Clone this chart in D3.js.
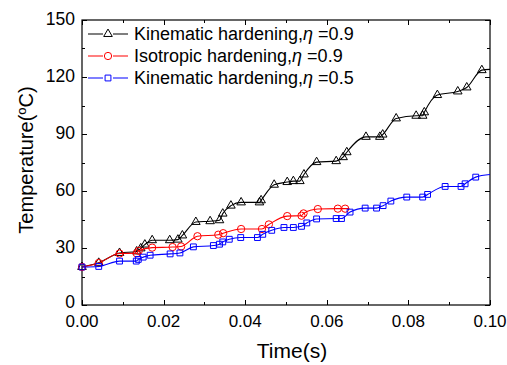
<!DOCTYPE html>
<html>
<head>
<meta charset="utf-8">
<script src="https://cdn.jsdelivr.net/npm/d3@7"></script>
<style>
  body { margin: 0; background: #fff; }
  svg { display: block; font-family: Arial, "Liberation Sans", sans-serif; }
</style>
</head>
<body>
<svg id="chart" width="507" height="365"></svg>
<script>
// series: kinematic hardening, eta = 0.9
const kin09Time = [0, 0.0041, 0.0092, 0.0134, 0.0144, 0.0154, 0.0172, 0.0215, 0.0235, 0.0246, 0.0279, 0.0314, 0.0337, 0.0345, 0.0365, 0.039, 0.0435, 0.0439, 0.0471, 0.0503, 0.0518, 0.0534, 0.0544, 0.0575, 0.0623, 0.064, 0.0649, 0.0696, 0.073, 0.0737, 0.077, 0.0819, 0.0835, 0.0839, 0.0871, 0.0921, 0.0943, 0.098, 0.1];
const kin09Temp = [20, 22.2, 27.4, 28.2, 29.8, 31.8, 34.1, 34.1, 34.4, 36.6, 43.7, 44.1, 44.6, 48.1, 52.3, 54.0, 54.0, 55.1, 63.3, 64.7, 65.2, 65.2, 68.7, 75.2, 75.7, 77.8, 80.4, 88.5, 88.5, 89.7, 98.2, 99.6, 99.6, 101.4, 110.5, 112.4, 114.5, 123.6, 124];

// series: isotropic hardening, eta = 0.9
const iso09Time = [0, 0.0041, 0.0092, 0.0134, 0.0139, 0.0172, 0.0222, 0.0243, 0.0283, 0.0334, 0.0346, 0.039, 0.0441, 0.0458, 0.0503, 0.0538, 0.0543, 0.0578, 0.0627, 0.0645, 0.0655];
const iso09Temp = [20, 22.1, 27.1, 27.2, 28.5, 30.2, 30.5, 30.8, 36.2, 37.0, 37.8, 40.0, 40.0, 42.4, 46.8, 47.0, 48.2, 50.5, 50.7, 50.7, 50.7];

// series: kinematic hardening, eta = 0.5
const kin05Time = [0, 0.0041, 0.0092, 0.0133, 0.0138, 0.015, 0.0167, 0.0216, 0.024, 0.0273, 0.0322, 0.0337, 0.0345, 0.0361, 0.0389, 0.043, 0.0443, 0.0465, 0.0495, 0.0518, 0.0538, 0.0551, 0.0575, 0.0623, 0.0636, 0.0657, 0.0694, 0.0722, 0.0738, 0.0757, 0.0796, 0.0835, 0.0847, 0.089, 0.0929, 0.0939, 0.0965, 0.1];
const kin05Temp = [20, 20.3, 23.1, 23.1, 24.0, 25.2, 26.2, 26.9, 27.4, 30.6, 31.3, 32.0, 33.2, 34.6, 35.5, 35.5, 37.2, 39.3, 40.8, 40.8, 41.4, 43.2, 45.3, 45.5, 45.5, 48.9, 51.0, 51.0, 52.3, 54.7, 56.8, 56.8, 58.2, 62.4, 62.4, 63.8, 67.3, 68.7];

const xTicks = [0, 0.02, 0.04, 0.06, 0.08, 0.1];
const yTicks = [0, 30, 60, 90, 120, 150];

const series = [
  { label: 'Kinematic hardening,', eta: '0.9', time: kin09Time, temp: kin09Temp, color: '#000', marker: d3.symbolTriangle, lastMarker: kin09Time.length - 1 },
  { label: 'Isotropic hardening,', eta: '0.9', time: iso09Time, temp: iso09Temp, color: '#ff0000', marker: d3.symbolCircle, lastMarker: iso09Time.length - 1 },
  { label: 'Kinematic hardening,', eta: '0.5', time: kin05Time, temp: kin05Temp, color: '#0000ff', marker: d3.symbolSquare, lastMarker: kin05Time.length - 1 }
];

const svg = d3.select('#chart');
const m = { left: 82, right: 490, top: 20, bottom: 305 };

const x = d3.scaleLinear().domain([0, 0.1]).range([m.left, m.right]);
const y = d3.scaleLinear().domain([0, 150]).range([m.bottom, m.top]);

// frame
svg.append('rect')
  .attr('x', m.left).attr('y', m.top)
  .attr('width', m.right - m.left).attr('height', m.bottom - m.top)
  .attr('fill', 'none').attr('stroke', '#000').attr('stroke-width', 1.2);

const xMinor = d3.range(0, 0.1001, 0.01);
const yMinor = d3.range(0, 151, 15);

const ticks = svg.append('g').attr('stroke', '#000').attr('stroke-width', 1);
xMinor.forEach((v, i) => {
  const len = i % 2 === 0 ? 5 : 3;
  const px = Math.round(x(v)) + 0.5;
  ticks.append('line').attr('x1', px).attr('x2', px).attr('y1', m.bottom).attr('y2', m.bottom - len);
  ticks.append('line').attr('x1', px).attr('x2', px).attr('y1', m.top).attr('y2', m.top + len);
});
yMinor.forEach((v, i) => {
  const len = i % 2 === 0 ? 5 : 3;
  const py = Math.round(y(v)) + 0.5;
  ticks.append('line').attr('y1', py).attr('y2', py).attr('x1', m.left).attr('x2', m.left + len);
  ticks.append('line').attr('y1', py).attr('y2', py).attr('x1', m.right).attr('x2', m.right - len);
});

// tick labels
svg.append('g').selectAll('text')
  .data(xTicks).join('text')
  .attr('x', d => x(d)).attr('y', 327)
  .attr('text-anchor', 'middle')
  .attr('font-size', 17)
  .text(d => d3.format('.2f')(d));

svg.append('g').selectAll('text')
  .data(yTicks).join('text')
  .attr('x', 75).attr('y', d => y(d) + (d === 0 ? 3 : 5))
  .attr('text-anchor', 'end')
  .attr('font-size', 17.5)
  .text(d => d);

// axis titles
svg.append('text')
  .attr('x', 292).attr('y', 358)
  .attr('text-anchor', 'middle')
  .attr('font-size', 21)
  .text('Time(s)');

const yTitle = svg.append('text')
  .attr('transform', 'translate(33,160) rotate(-90)')
  .attr('text-anchor', 'middle')
  .attr('font-size', 20);
yTitle.append('tspan').text('Temperature(');
yTitle.append('tspan').attr('font-size', 13).attr('dy', -7).text('o');
yTitle.append('tspan').attr('dy', 7).text('C)');

// curves
const line = d3.line()
  .x(d => x(d[0]))
  .y(d => y(d[1]))
  .curve(d3.curveMonotoneX);

const symSize = s => s.marker === d3.symbolTriangle ? 32 : (s.marker === d3.symbolCircle ? 42 : 34);

const plot = svg.append('g');

series.forEach(s => {
  const pts = s.time.map((t, i) => [t, s.temp[i]]);
  plot.append('path')
    .datum(pts)
    .attr('d', line)
    .attr('fill', 'none')
    .attr('stroke', s.color)
    .attr('stroke-width', 1.1);

  const sym = d3.symbol().type(s.marker).size(symSize(s));
  plot.append('g').selectAll('path')
    .data(pts.slice(0, s.lastMarker))
    .join('path')
    .attr('transform', d => `translate(${x(d[0])},${y(d[1])})`)
    .attr('d', sym)
    .attr('fill', 'none')
    .attr('stroke', s.color)
    .attr('stroke-width', 1);
});

// legend
const legend = svg.append('g');
series.forEach((s, i) => {
  const cy = 34 + i * 22;
  legend.append('line')
    .attr('x1', 88).attr('x2', 128).attr('y1', cy).attr('y2', cy)
    .attr('stroke', s.color).attr('stroke-width', 1.1);
  legend.append('rect')
    .attr('x', 103).attr('y', cy - 4).attr('width', 10).attr('height', 8)
    .attr('fill', '#fff');
  legend.append('path')
    .attr('transform', `translate(108,${cy})`)
    .attr('d', d3.symbol().type(s.marker).size(symSize(s)))
    .attr('fill', 'none')
    .attr('stroke', s.color);
  const t = legend.append('text')
    .attr('x', 134).attr('y', cy + 6)
    .attr('font-size', 18);
  t.append('tspan').text(s.label);
  t.append('tspan').attr('font-style', 'italic').text('η');
  t.append('tspan').text(' =' + s.eta);
});
</script>
</body>
</html>
